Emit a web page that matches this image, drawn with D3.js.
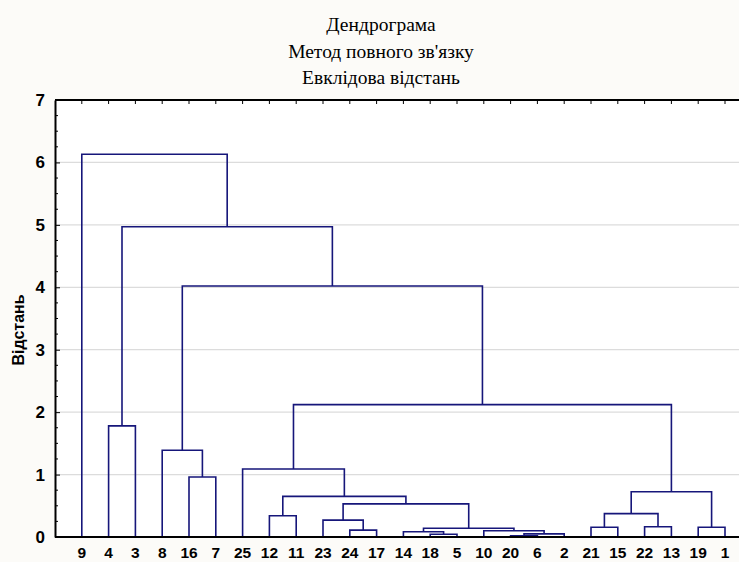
<!DOCTYPE html>
<html>
<head>
<meta charset="utf-8">
<script src="https://cdn.jsdelivr.net/npm/d3@7"></script>
<style>
  body { margin: 0; background: #fcfbf8; }
  svg { display: block; }
</style>
</head>
<body>
<svg id="chart" width="739" height="562"></svg>
<script>
// leaf order along the x axis
var leaves = ["9","4","3","8","16","7","25","12","11","23","24","17","14","18","5","10","20","6","2","21","15","22","13","19","1"];

// merges: cluster "c<i>" joins mergeLeft[i] and mergeRight[i] at mergeHeight[i]
var mergeLeft   = ["4","16","8","12","24","23","18","14","20","c8","10","c7","c5","c3","25","21","22","c15","19","c17","c14","c2","c0","9"];
var mergeRight  = ["3","7","c1","11","17","c4","5","c6","6","2","c9","c10","c11","c12","c13","15","13","c16","1","c18","c19","c20","c21","c22"];
var mergeHeight = [1.78,0.96,1.39,0.34,0.11,0.27,0.045,0.085,0.02,0.05,0.10,0.14,0.53,0.65,1.09,0.155,0.165,0.375,0.155,0.725,2.12,4.02,4.97,6.13];

var yTicks = [0,1,2,3,4,5,6,7];
var titleLines = ["Дендрограма", "Метод повного зв'язку", "Евклідова відстань"];
var yLabel = "Відстань";

var svg = d3.select("#chart");
var plotLeft = 55, plotTop = 100, plotBottom = 537;
var step = 26.8;

var x = d3.scaleLinear().domain([0, leaves.length + 1]).range([plotLeft, plotLeft + step * (leaves.length + 1)]);
var y = d3.scaleLinear().domain([0, 7]).range([plotBottom, plotTop]);

// plot background
svg.append("rect")
  .attr("x", plotLeft).attr("y", plotTop)
  .attr("width", x(leaves.length + 1) - plotLeft).attr("height", plotBottom - plotTop)
  .attr("fill", "#ffffff");

// gridlines
svg.append("g").selectAll("line")
  .data(yTicks.slice(1, -1))
  .enter().append("line")
  .attr("x1", plotLeft).attr("x2", x(leaves.length + 1))
  .attr("y1", function (d) { return y(d); })
  .attr("y2", function (d) { return y(d); })
  .attr("stroke", "#dcdcdc").attr("stroke-width", 1.2);

// positions of leaves and clusters
var pos = {};
leaves.forEach(function (d, i) { pos[d] = { x: x(i + 1), h: 0 }; });
mergeLeft.forEach(function (l, i) {
  var a = pos[l], b = pos[mergeRight[i]];
  pos["c" + i] = { x: (a.x + b.x) / 2, h: mergeHeight[i], a: a, b: b };
});

svg.append("g").selectAll("path")
  .data(mergeHeight.map(function (h, i) { return pos["c" + i]; }))
  .enter().append("path")
  .attr("d", function (d) {
    return "M" + d.a.x + "," + y(d.a.h) + "V" + y(d.h) + "H" + d.b.x + "V" + y(d.b.h);
  })
  .attr("fill", "none")
  .attr("stroke", "#16167a")
  .attr("stroke-width", 1.6);

// left axis with inward ticks
var yAxis = d3.axisLeft(y).tickValues(yTicks).tickFormat(d3.format("d"))
  .tickSizeInner(-5).tickSizeOuter(0).tickPadding(10);
var ga = svg.append("g").attr("transform", "translate(" + plotLeft + ",0)").call(yAxis);
ga.select(".domain").attr("stroke", "#000").attr("stroke-width", 2);
ga.selectAll(".tick line").attr("stroke", "#000");
ga.selectAll("text")
  .attr("font-family", "Arial, 'Liberation Sans', sans-serif")
  .attr("font-weight", "bold").attr("font-size", 17).attr("fill", "#000");

// minor ticks
var minor = d3.range(0, 7.01, 0.25).filter(function (d) { return d % 1 !== 0; });
svg.append("g").selectAll("line")
  .data(minor)
  .enter().append("line")
  .attr("x1", plotLeft).attr("x2", plotLeft + 3)
  .attr("y1", function (d) { return y(d); })
  .attr("y2", function (d) { return y(d); })
  .attr("stroke", "#000");

// top frame with ticks at leaves
svg.append("line")
  .attr("x1", plotLeft).attr("x2", 739).attr("y1", plotTop).attr("y2", plotTop)
  .attr("stroke", "#000").attr("stroke-width", 2);
svg.append("g").selectAll("line")
  .data(leaves)
  .enter().append("line")
  .attr("x1", function (d) { return pos[d].x; })
  .attr("x2", function (d) { return pos[d].x; })
  .attr("y1", plotTop).attr("y2", plotTop + 4)
  .attr("stroke", "#000");

// bottom line
svg.append("line")
  .attr("x1", plotLeft).attr("x2", 739).attr("y1", plotBottom).attr("y2", plotBottom)
  .attr("stroke", "#000").attr("stroke-width", 2);

// leaf labels
svg.append("g").selectAll("text")
  .data(leaves)
  .enter().append("text")
  .attr("x", function (d) { return pos[d].x; })
  .attr("y", 558)
  .attr("text-anchor", "middle")
  .attr("font-family", "Arial, 'Liberation Sans', sans-serif")
  .attr("font-weight", "bold").attr("font-size", 15.5)
  .text(function (d) { return d; });

// y label
svg.append("text")
  .attr("transform", "translate(24,330) rotate(-90)")
  .attr("text-anchor", "middle")
  .attr("font-family", "Arial, 'Liberation Sans', sans-serif")
  .attr("font-weight", "bold").attr("font-size", 16)
  .text(yLabel);

// titles
svg.append("g").selectAll("text")
  .data(titleLines)
  .enter().append("text")
  .attr("x", 381)
  .attr("y", function (d, i) { return 31 + i * 26.5; })
  .attr("text-anchor", "middle")
  .attr("font-family", "'Liberation Serif', 'Times New Roman', serif")
  .attr("font-size", 19.5)
  .attr("fill", "#000")
  .text(function (d) { return d; });
</script>
</body>
</html>
